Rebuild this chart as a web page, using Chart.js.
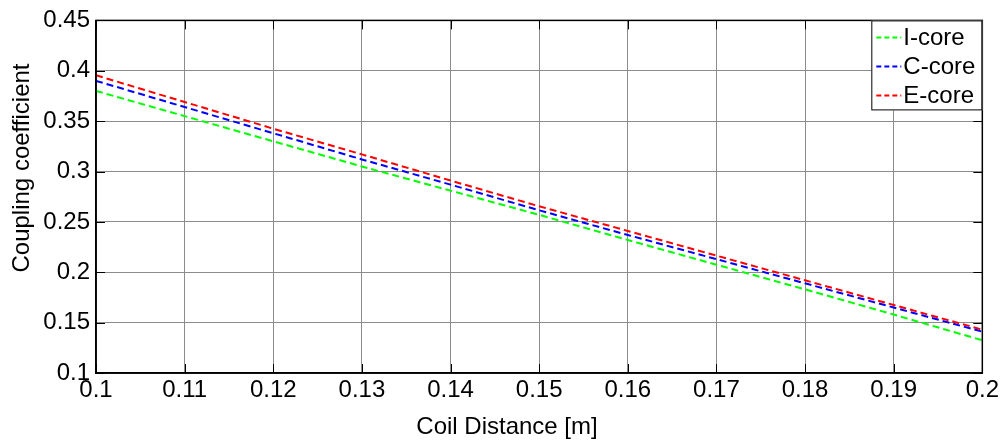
<!DOCTYPE html>
<html>
<head>
<meta charset="utf-8">
<script src="https://cdn.jsdelivr.net/npm/chart.js@4/dist/chart.umd.min.js"></script>
<style>
  html, body { margin: 0; padding: 0; background: #fff; }
  #wrap { width: 1002px; height: 442px; }
</style>
</head>
<body>
<div id="wrap"><canvas id="grafico" width="1002" height="442"></canvas></div>
<script>
// Datos
const distancias = [0.10, 0.11, 0.12, 0.13, 0.14, 0.15, 0.16, 0.17, 0.18, 0.19, 0.20];
const iCore = [0.380, 0.355, 0.330, 0.305, 0.281, 0.257, 0.232, 0.2075, 0.183, 0.158, 0.1325];
const cCore = [0.390, 0.364, 0.338, 0.312, 0.287, 0.2615, 0.237, 0.213, 0.189, 0.165, 0.141];
const eCore = [0.3955, 0.369, 0.3425, 0.317, 0.291, 0.2655, 0.241, 0.2165, 0.192, 0.1675, 0.143];
const nombres = ['I-core', 'C-core', 'E-core'];
const colores = ['#00ff00', '#0000ff', '#ff0000'];
const ticksX = [0.1, 0.11, 0.12, 0.13, 0.14, 0.15, 0.16, 0.17, 0.18, 0.19, 0.2];
const ticksY = [0.1, 0.15, 0.2, 0.25, 0.3, 0.35, 0.4, 0.45];
const tituloY = 'Coupling coefficient';
const tituloX = 'Coil Distance [m]';

const fuente = 'Arial, "Liberation Sans", sans-serif';
const tam = 24;

function serie(ys) {
    return distancias.map((x, i) => ({ x: x, y: ys[i] }));
}

const datos = {
    datasets: [iCore, cCore, eCore].map((ys, i) => ({
        label: nombres[i],
        data: serie(ys),
        borderColor: colores[i],
        backgroundColor: colores[i],
        borderWidth: 2,
        borderDash: [7, 4],
        pointRadius: 0,
        fill: false,
        tension: 0
    }))
};

// Marco completo, marcas internas, titulos y leyenda
const marco = {
    id: 'marco',
    afterDraw(chart) {
        const ctx = chart.ctx;
        const a = chart.chartArea;
        const sx = chart.scales.x, sy = chart.scales.y;
        ctx.save();

        // marcas hacia adentro (estilo matlab)
        ctx.strokeStyle = '#000';
        ctx.lineWidth = 1;
        ctx.beginPath();
        ticksX.forEach(v => {
            const px = Math.round(sx.getPixelForValue(v)) + 0.5;
            ctx.moveTo(px, a.bottom); ctx.lineTo(px, a.bottom - 9);
            ctx.moveTo(px, a.top); ctx.lineTo(px, a.top + 9);
        });
        ticksY.forEach(v => {
            const py = Math.round(sy.getPixelForValue(v)) + 0.5;
            ctx.moveTo(a.left, py); ctx.lineTo(a.left + 9, py);
            ctx.moveTo(a.right, py); ctx.lineTo(a.right - 9, py);
        });
        ctx.stroke();

        ctx.lineWidth = 1.5;
        ctx.strokeRect(a.left, a.top, a.right - a.left, a.bottom - a.top);

        // titulos de los ejes
        ctx.font = tam + 'px ' + fuente;
        ctx.fillStyle = '#000';
        ctx.textAlign = 'center';
        ctx.textBaseline = 'middle';
        ctx.fillText(tituloX, 507, 427);
        ctx.save();
        ctx.translate(22, 168);
        ctx.rotate(-Math.PI / 2);
        ctx.fillText(tituloY, 0, 0);
        ctx.restore();

        // leyenda
        const ancho = 111, alto = 90;
        const x0 = a.right - ancho, y0 = a.top;
        ctx.fillStyle = '#fff';
        ctx.fillRect(x0, y0, ancho, alto);
        ctx.strokeStyle = '#000';
        ctx.lineWidth = 1;
        ctx.strokeRect(x0 + 0.5, y0 + 0.5, ancho - 1, alto - 1);
        ctx.textAlign = 'left';
        chart.data.datasets.forEach((ds, i) => {
            const y = y0 + 17 + i * 29;
            ctx.strokeStyle = ds.borderColor;
            ctx.lineWidth = 2;
            ctx.setLineDash([5, 3]);
            ctx.beginPath();
            ctx.moveTo(x0 + 5, y);
            ctx.lineTo(x0 + 30, y);
            ctx.stroke();
            ctx.setLineDash([]);
            ctx.fillStyle = '#000';
            ctx.fillText(ds.label, x0 + 32, y + 1);
        });
        ctx.restore();
    }
};

const config = {
    type: 'line',
    data: datos,
    options: {
        responsive: false,
        animation: false,
        layout: { padding: { top: 18, right: 18, left: 0, bottom: 0 } },
        plugins: {
            legend: { display: false },
            tooltip: { enabled: false }
        },
        scales: {
            x: {
                type: 'linear',
                min: 0.1,
                max: 0.2,
                afterBuildTicks: (s) => { s.ticks = ticksX.map(v => ({ value: v })); },
                afterFit: (s) => { s.height = 69; },
                grid: { color: '#8c8c8c', lineWidth: 1, tickLength: 0 },
                border: { color: '#000', width: 1.5 },
                ticks: {
                    color: '#000',
                    font: { family: fuente, size: tam },
                    padding: 3,
                    maxRotation: 0,
                    callback: (v) => String(Number(v.toFixed(2)))
                },
                title: { display: false }
            },
            y: {
                min: 0.1,
                max: 0.45,
                afterBuildTicks: (s) => { s.ticks = ticksY.map(v => ({ value: v })); },
                afterFit: (s) => { s.width = 96; },
                grid: { color: '#8c8c8c', lineWidth: 1, tickLength: 0 },
                border: { color: '#000', width: 1.5 },
                ticks: {
                    color: '#000',
                    font: { family: fuente, size: tam },
                    padding: 6,
                    callback: (v) => String(Number(v.toFixed(2)))
                },
                title: { display: false }
            }
        }
    },
    plugins: [marco]
};

const grafico = new Chart(document.getElementById('grafico'), config);
</script>
</body>
</html>
